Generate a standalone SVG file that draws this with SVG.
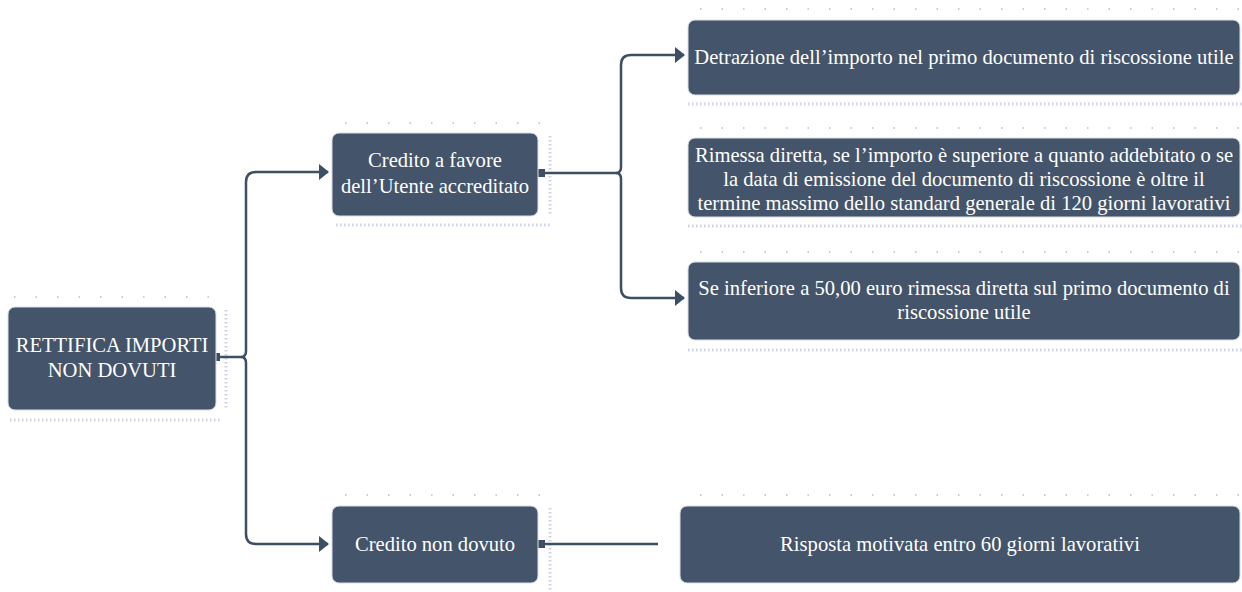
<svg xmlns="http://www.w3.org/2000/svg" width="1242" height="592" viewBox="0 0 1242 592">
<defs>
<style>
.box{fill:#44546a;stroke:#d9dde4;stroke-width:1}
.t{font-size:20.6px;fill:#ffffff;text-anchor:middle}
.c{fill:none;stroke:#3e4f64;stroke-width:2.5;stroke-linejoin:round}
.dots{fill:none;stroke:#b4bdd2;stroke-width:1.5;stroke-dasharray:1.5 20}
.band{fill:none;stroke:#cdd3e2;stroke-width:3;stroke-dasharray:1.5 2.5}
.sq{fill:#3e4f64}
</style>
<marker id="arr" viewBox="0 0 10 16" refX="9" refY="8" markerWidth="10" markerHeight="16" markerUnits="userSpaceOnUse" orient="auto">
<path d="M0,0 L10,8 L0,16 Z" fill="#3e4f64"/>
</marker>
</defs>
<rect width="1242" height="592" fill="#ffffff"/>

<g id="texture">
<line class="dots" x1="14" y1="297" x2="214" y2="297"/>
<line class="band" x1="10" y1="420" x2="222" y2="420"/>
<line class="band" x1="226" y1="310" x2="226" y2="410"/>
<line class="dots" x1="345" y1="123" x2="540" y2="123"/>
<line class="band" x1="336" y1="225" x2="552" y2="225"/>
<line class="band" x1="550" y1="136" x2="550" y2="216"/>
<line class="dots" x1="700" y1="9" x2="1240" y2="9"/>
<line class="band" x1="688" y1="104" x2="1242" y2="104"/>
<line class="dots" x1="700" y1="128" x2="1240" y2="128"/>
<line class="band" x1="688" y1="226" x2="1242" y2="226"/>
<line class="dots" x1="700" y1="252" x2="1240" y2="252"/>
<line class="band" x1="688" y1="350" x2="1242" y2="350"/>
<line class="dots" x1="345" y1="495" x2="540" y2="495"/>
<line class="band" x1="550" y1="508" x2="550" y2="590"/>
<line class="dots" x1="700" y1="495" x2="1240" y2="495"/>
</g>

<g id="connectors">
<path class="c" d="M220,357 H241"/>
<path class="c" d="M241,357 Q246,357 246,351 V182 Q246,172 256,172 H328" marker-end="url(#arr)"/>
<path class="c" d="M241,357 Q246,357 246,363 V534 Q246,544 256,544 H328" marker-end="url(#arr)"/>
<path class="c" d="M544,173 H616"/>
<path class="c" d="M616,173 Q621,173 621,167 V65 Q621,55 631,55 H684" marker-end="url(#arr)"/>
<path class="c" d="M616,173 Q621,173 621,179 V288 Q621,298 631,298 H684" marker-end="url(#arr)"/>
<path class="c" d="M544,544 H658"/>
<rect class="sq" x="212" y="353" width="8" height="8"/>
<rect class="sq" x="537" y="169" width="8" height="8"/>
<rect class="sq" x="537" y="540" width="8" height="8"/>
</g>

<g id="n-root">
<rect class="box" x="8" y="307" width="208" height="103" rx="7"/>
<text class="t" font-family="Liberation Serif, Times New Roman, serif" x="112" y="352">RETTIFICA IMPORTI</text>
<text class="t" font-family="Liberation Serif, Times New Roman, serif" x="112" y="377">NON DOVUTI</text>
</g>

<g id="n-credito-favore">
<rect class="box" x="332" y="133" width="206" height="83" rx="7"/>
<text class="t" font-family="Liberation Serif, Times New Roman, serif" x="435" y="167">Credito a favore</text>
<text class="t" font-family="Liberation Serif, Times New Roman, serif" x="435" y="193">dell’Utente accreditato</text>
</g>

<g id="n-detrazione">
<rect class="box" x="688" y="20" width="552" height="75" rx="7"/>
<text class="t" font-family="Liberation Serif, Times New Roman, serif" x="964" y="64">Detrazione dell’importo nel primo documento di riscossione utile</text>
</g>

<g id="n-rimessa">
<rect class="box" x="688" y="138" width="552" height="79" rx="7"/>
<text class="t" font-family="Liberation Serif, Times New Roman, serif" x="964" y="162">Rimessa diretta, se l’importo è superiore a quanto addebitato o se</text>
<text class="t" font-family="Liberation Serif, Times New Roman, serif" x="964" y="186">la data di emissione del documento di riscossione è oltre il</text>
<text class="t" font-family="Liberation Serif, Times New Roman, serif" x="964" y="210">termine massimo dello standard generale di 120 giorni lavorativi</text>
</g>

<g id="n-inferiore">
<rect class="box" x="688" y="262" width="552" height="78" rx="7"/>
<text class="t" font-family="Liberation Serif, Times New Roman, serif" x="964" y="295">Se inferiore a 50,00 euro rimessa diretta sul primo documento di</text>
<text class="t" font-family="Liberation Serif, Times New Roman, serif" x="964" y="319">riscossione utile</text>
</g>

<g id="n-non-dovuto">
<rect class="box" x="332" y="506" width="206" height="77" rx="7"/>
<text class="t" font-family="Liberation Serif, Times New Roman, serif" x="435" y="551">Credito non dovuto</text>
</g>

<g id="n-risposta">
<rect class="box" x="680" y="506" width="560" height="77" rx="7"/>
<text class="t" font-family="Liberation Serif, Times New Roman, serif" x="960" y="551">Risposta motivata entro 60 giorni lavorativi</text>
</g>
</svg>
